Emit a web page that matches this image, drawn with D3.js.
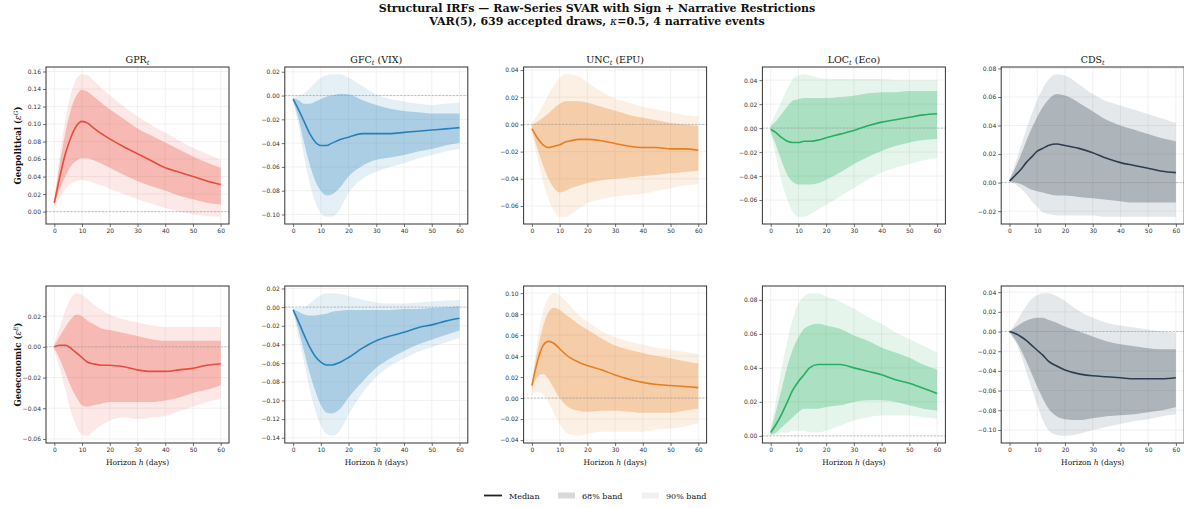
<!DOCTYPE html>
<html lang="en">
<head>
  <meta charset="UTF-8">
  <title>Structural IRFs</title>
  <script src="https://d3js.org/d3.v7.min.js"></script>
  <style>
    body { margin: 0; background: #fff; }
    .tick text { font-family: 'DejaVu Sans', sans-serif; font-size: 6px; }
    .serif { font-family: 'DejaVu Serif', serif; fill: #111; }
  </style>
</head>
<body>
<svg id="irf" width="1184" height="508"></svg>
<script>
const horizons = [0, 2, 4, 6, 8, 10, 12, 14, 17, 20, 25, 30, 35, 40, 45, 50, 55, 60];
const xTicks = [0, 10, 20, 30, 40, 50, 60];
const variables = ['GPR', 'GFC', 'UNC', 'LOC', 'CDS'];
const suffixes = ['', ' (VIX)', ' (EPU)', ' (Eco)', ''];
const colors = ['#e74c3c', '#2980b9', '#e67e22', '#27ae60', '#2c3e50'];
const shocks = ['Geopolitical', 'Geoeconomic'];
const shockSup = ['G', 'E'];
const legendLabels = ['Median', '68% band', '90% band'];

// ---- geopolitical shock ----
const G_GPR_med  = [0.010, 0.040, 0.066, 0.085, 0.098, 0.103, 0.101, 0.096, 0.089, 0.083, 0.074, 0.066, 0.058, 0.050, 0.045, 0.040, 0.035, 0.031];
const G_GPR_hi68 = [0.012, 0.055, 0.090, 0.117, 0.133, 0.139, 0.137, 0.132, 0.124, 0.117, 0.106, 0.095, 0.087, 0.079, 0.071, 0.063, 0.056, 0.050];
const G_GPR_lo68 = [0.008, 0.026, 0.040, 0.052, 0.058, 0.061, 0.061, 0.059, 0.055, 0.050, 0.042, 0.035, 0.029, 0.024, 0.018, 0.014, 0.010, 0.008];
const G_GPR_hi90 = [0.013, 0.065, 0.105, 0.135, 0.152, 0.157, 0.156, 0.150, 0.141, 0.133, 0.120, 0.109, 0.099, 0.090, 0.081, 0.073, 0.066, 0.059];
const G_GPR_lo90 = [0.006, 0.016, 0.026, 0.032, 0.035, 0.036, 0.035, 0.033, 0.030, 0.026, 0.020, 0.014, 0.009, 0.004, 0.000, -0.003, -0.005, -0.006];

const G_GFC_med  = [-0.003, -0.012, -0.022, -0.032, -0.039, -0.042, -0.042, -0.040, -0.037, -0.035, -0.032, -0.032, -0.032, -0.031, -0.030, -0.029, -0.028, -0.027];
const G_GFC_hi68 = [-0.002, -0.004, -0.007, -0.007, -0.005, -0.003, -0.001, 0.000, 0.0015, 0.001, -0.004, -0.008, -0.011, -0.013, -0.014, -0.015, -0.015, -0.015];
const G_GFC_lo68 = [-0.004, -0.020, -0.040, -0.058, -0.072, -0.080, -0.084, -0.083, -0.077, -0.068, -0.059, -0.054, -0.052, -0.050, -0.047, -0.045, -0.042, -0.040];
const G_GFC_hi90 = [-0.001, 0.000, 0.002, 0.006, 0.011, 0.015, 0.017, 0.018, 0.018, 0.015, 0.008, 0.001, -0.003, -0.005, -0.007, -0.008, -0.007, -0.006];
const G_GFC_lo90 = [-0.005, -0.026, -0.052, -0.074, -0.090, -0.099, -0.102, -0.102, -0.095, -0.082, -0.070, -0.064, -0.060, -0.057, -0.053, -0.050, -0.047, -0.045];

const G_UNC_med  = [-0.003, -0.010, -0.015, -0.017, -0.016, -0.015, -0.013, -0.012, -0.011, -0.011, -0.012, -0.014, -0.016, -0.017, -0.017, -0.018, -0.018, -0.019];
const G_UNC_hi68 = [0.000, 0.002, 0.005, 0.008, 0.012, 0.015, 0.017, 0.017, 0.017, 0.016, 0.013, 0.010, 0.007, 0.005, 0.003, 0.001, 0.000, -0.001];
const G_UNC_lo68 = [-0.004, -0.018, -0.030, -0.040, -0.047, -0.050, -0.049, -0.047, -0.045, -0.043, -0.041, -0.040, -0.039, -0.038, -0.037, -0.036, -0.035, -0.034];
const G_UNC_hi90 = [0.001, 0.007, 0.014, 0.022, 0.029, 0.034, 0.037, 0.037, 0.035, 0.031, 0.024, 0.019, 0.016, 0.013, 0.011, 0.009, 0.007, 0.006];
const G_UNC_lo90 = [-0.005, -0.025, -0.042, -0.055, -0.064, -0.068, -0.068, -0.066, -0.062, -0.058, -0.055, -0.053, -0.052, -0.051, -0.049, -0.047, -0.045, -0.044];

const G_LOC_med  = [-0.001, -0.004, -0.008, -0.011, -0.012, -0.012, -0.011, -0.011, -0.010, -0.008, -0.005, -0.002, 0.002, 0.005, 0.007, 0.009, 0.011, 0.012];
const G_LOC_hi68 = [0.002, 0.006, 0.012, 0.018, 0.023, 0.024, 0.025, 0.025, 0.025, 0.025, 0.026, 0.027, 0.029, 0.030, 0.030, 0.031, 0.031, 0.031];
const G_LOC_lo68 = [-0.003, -0.015, -0.028, -0.039, -0.045, -0.047, -0.047, -0.047, -0.046, -0.043, -0.037, -0.030, -0.024, -0.019, -0.015, -0.012, -0.010, -0.009];
const G_LOC_hi90 = [0.003, 0.013, 0.023, 0.033, 0.041, 0.044, 0.045, 0.044, 0.042, 0.041, 0.041, 0.041, 0.041, 0.041, 0.040, 0.040, 0.040, 0.040];
const G_LOC_lo90 = [-0.004, -0.025, -0.045, -0.060, -0.070, -0.074, -0.074, -0.072, -0.068, -0.064, -0.057, -0.050, -0.043, -0.037, -0.033, -0.030, -0.027, -0.025];

const G_CDS_med  = [0.001, 0.005, 0.009, 0.014, 0.018, 0.022, 0.024, 0.026, 0.027, 0.026, 0.024, 0.021, 0.017, 0.014, 0.012, 0.010, 0.008, 0.007];
const G_CDS_hi68 = [0.002, 0.010, 0.019, 0.029, 0.038, 0.046, 0.053, 0.058, 0.062, 0.061, 0.056, 0.050, 0.044, 0.040, 0.037, 0.034, 0.031, 0.029];
const G_CDS_lo68 = [0.001, 0.000, -0.001, -0.003, -0.005, -0.006, -0.007, -0.008, -0.009, -0.009, -0.010, -0.011, -0.012, -0.013, -0.014, -0.014, -0.014, -0.014];
const G_CDS_hi90 = [0.002, 0.013, 0.025, 0.037, 0.048, 0.058, 0.066, 0.072, 0.076, 0.075, 0.069, 0.062, 0.057, 0.054, 0.051, 0.048, 0.045, 0.042];
const G_CDS_lo90 = [0.001, -0.001, -0.004, -0.008, -0.013, -0.017, -0.021, -0.022, -0.023, -0.023, -0.023, -0.023, -0.024, -0.024, -0.024, -0.024, -0.024, -0.024];

// ---- geoeconomic shock ----
const E_GPR_med  = [0.000, 0.001, 0.001, -0.001, -0.004, -0.007, -0.010, -0.011, -0.012, -0.012, -0.013, -0.015, -0.016, -0.016, -0.015, -0.014, -0.012, -0.011];
const E_GPR_hi68 = [0.001, 0.007, 0.013, 0.018, 0.021, 0.020, 0.017, 0.015, 0.012, 0.011, 0.009, 0.007, 0.005, 0.004, 0.004, 0.004, 0.004, 0.004];
const E_GPR_lo68 = [-0.001, -0.008, -0.017, -0.026, -0.033, -0.038, -0.039, -0.038, -0.037, -0.036, -0.036, -0.036, -0.036, -0.035, -0.033, -0.030, -0.028, -0.025];
const E_GPR_hi90 = [0.002, 0.013, 0.024, 0.032, 0.035, 0.034, 0.031, 0.028, 0.024, 0.021, 0.018, 0.016, 0.014, 0.013, 0.013, 0.013, 0.013, 0.013];
const E_GPR_lo90 = [-0.002, -0.014, -0.028, -0.042, -0.052, -0.057, -0.058, -0.055, -0.051, -0.048, -0.046, -0.047, -0.046, -0.045, -0.042, -0.039, -0.036, -0.034];

const E_GFC_med  = [-0.003, -0.016, -0.030, -0.043, -0.053, -0.059, -0.062, -0.062, -0.059, -0.054, -0.044, -0.036, -0.031, -0.027, -0.022, -0.019, -0.015, -0.012];
const E_GFC_hi68 = [-0.002, -0.005, -0.008, -0.009, -0.009, -0.008, -0.007, -0.005, -0.004, -0.003, -0.003, -0.003, -0.003, -0.002, -0.002, -0.001, 0.000, 0.001];
const E_GFC_lo68 = [-0.004, -0.025, -0.048, -0.071, -0.090, -0.105, -0.113, -0.114, -0.109, -0.097, -0.080, -0.065, -0.055, -0.047, -0.040, -0.035, -0.030, -0.025];
const E_GFC_hi90 = [-0.001, -0.001, 0.000, 0.004, 0.009, 0.013, 0.015, 0.015, 0.014, 0.012, 0.008, 0.005, 0.004, 0.004, 0.005, 0.006, 0.007, 0.008];
const E_GFC_lo90 = [-0.005, -0.032, -0.060, -0.088, -0.111, -0.127, -0.136, -0.138, -0.132, -0.115, -0.092, -0.075, -0.063, -0.055, -0.048, -0.043, -0.038, -0.033];

const E_UNC_med  = [0.012, 0.035, 0.050, 0.054, 0.052, 0.047, 0.042, 0.038, 0.034, 0.031, 0.027, 0.022, 0.018, 0.015, 0.013, 0.012, 0.011, 0.010];
const E_UNC_hi68 = [0.014, 0.045, 0.068, 0.082, 0.086, 0.084, 0.080, 0.076, 0.070, 0.065, 0.057, 0.050, 0.046, 0.043, 0.040, 0.038, 0.035, 0.033];
const E_UNC_lo68 = [0.008, 0.020, 0.023, 0.018, 0.009, 0.000, -0.006, -0.010, -0.012, -0.013, -0.012, -0.012, -0.013, -0.014, -0.014, -0.014, -0.012, -0.010];
const E_UNC_hi90 = [0.016, 0.055, 0.082, 0.096, 0.100, 0.098, 0.093, 0.087, 0.079, 0.073, 0.064, 0.058, 0.054, 0.051, 0.048, 0.046, 0.044, 0.042];
const E_UNC_lo90 = [0.003, 0.006, 0.004, -0.004, -0.015, -0.025, -0.032, -0.035, -0.036, -0.034, -0.032, -0.032, -0.032, -0.032, -0.030, -0.029, -0.027, -0.024];

const E_LOC_med  = [0.002, 0.007, 0.013, 0.020, 0.027, 0.032, 0.036, 0.040, 0.042, 0.042, 0.042, 0.040, 0.038, 0.036, 0.033, 0.031, 0.028, 0.025];
const E_LOC_hi68 = [0.003, 0.015, 0.028, 0.041, 0.051, 0.058, 0.063, 0.065, 0.066, 0.065, 0.063, 0.059, 0.056, 0.052, 0.049, 0.046, 0.042, 0.039];
const E_LOC_lo68 = [0.001, 0.002, 0.005, 0.008, 0.011, 0.014, 0.016, 0.016, 0.016, 0.017, 0.018, 0.020, 0.021, 0.021, 0.020, 0.018, 0.016, 0.015];
const E_LOC_hi90 = [0.004, 0.022, 0.040, 0.056, 0.069, 0.078, 0.082, 0.084, 0.084, 0.082, 0.079, 0.075, 0.070, 0.066, 0.061, 0.057, 0.053, 0.049];
const E_LOC_lo90 = [0.000, 0.001, 0.002, 0.002, 0.003, 0.003, 0.003, 0.002, 0.002, 0.003, 0.006, 0.009, 0.011, 0.012, 0.012, 0.012, 0.011, 0.010];

const E_CDS_med  = [0.000, -0.002, -0.005, -0.009, -0.014, -0.019, -0.024, -0.030, -0.035, -0.039, -0.043, -0.045, -0.046, -0.047, -0.048, -0.048, -0.048, -0.047];
const E_CDS_hi68 = [0.000, 0.004, 0.008, 0.011, 0.013, 0.014, 0.014, 0.012, 0.009, 0.005, 0.000, -0.005, -0.010, -0.013, -0.015, -0.017, -0.018, -0.018];
const E_CDS_lo68 = [-0.001, -0.008, -0.018, -0.030, -0.043, -0.056, -0.068, -0.078, -0.086, -0.089, -0.090, -0.088, -0.086, -0.085, -0.084, -0.082, -0.080, -0.077];
const E_CDS_hi90 = [0.000, 0.008, 0.017, 0.026, 0.033, 0.037, 0.039, 0.039, 0.036, 0.031, 0.021, 0.014, 0.009, 0.006, 0.004, 0.002, 0.000, -0.001];
const E_CDS_lo90 = [-0.001, -0.010, -0.023, -0.040, -0.058, -0.075, -0.090, -0.100, -0.105, -0.106, -0.104, -0.100, -0.097, -0.094, -0.091, -0.089, -0.086, -0.084];

// table of panels: rows = shocks, cols = variables
const panelData = [
  [
    [G_GPR_med, G_GPR_lo68, G_GPR_hi68, G_GPR_lo90, G_GPR_hi90],
    [G_GFC_med, G_GFC_lo68, G_GFC_hi68, G_GFC_lo90, G_GFC_hi90],
    [G_UNC_med, G_UNC_lo68, G_UNC_hi68, G_UNC_lo90, G_UNC_hi90],
    [G_LOC_med, G_LOC_lo68, G_LOC_hi68, G_LOC_lo90, G_LOC_hi90],
    [G_CDS_med, G_CDS_lo68, G_CDS_hi68, G_CDS_lo90, G_CDS_hi90]
  ],
  [
    [E_GPR_med, E_GPR_lo68, E_GPR_hi68, E_GPR_lo90, E_GPR_hi90],
    [E_GFC_med, E_GFC_lo68, E_GFC_hi68, E_GFC_lo90, E_GFC_hi90],
    [E_UNC_med, E_UNC_lo68, E_UNC_hi68, E_UNC_lo90, E_UNC_hi90],
    [E_LOC_med, E_LOC_lo68, E_LOC_hi68, E_LOC_lo90, E_LOC_hi90],
    [E_CDS_med, E_CDS_lo68, E_CDS_hi68, E_CDS_lo90, E_CDS_hi90]
  ]
];

const svg = d3.select('svg#irf');

// layout
const panelLeft = 46, panelStep = 238.8, panelW = 183, panelH = 157;
const rowTops = [67, 286];

// suptitle
const title = svg.append('text').attr('class', 'serif')
  .attr('text-anchor', 'middle').attr('x', 597)
  .style('font-weight', 'bold').style('font-size', '11px');
title.append('tspan').attr('x', 597).attr('y', 12)
  .text('Structural IRFs \u2014 Raw-Series SVAR with Sign + Narrative Restrictions');
const t2 = title.append('tspan').attr('x', 597).attr('y', 25);
t2.append('tspan').text('VAR(5), 639 accepted draws, ');
t2.append('tspan').style('font-style', 'italic').style('font-weight', 'normal').text('\u03BA');
t2.append('tspan').text('=0.5, 4 narrative events');

shocks.forEach((shock, r) => {
  const top = rowTops[r];

  variables.forEach((v, c) => {
    const left = panelLeft + c * panelStep;
    const [med, lo68, hi68, lo90, hi90] = panelData[r][c];
    const color = colors[c];

    // y domain like matplotlib autoscale (5% margin), zero line included
    const all = [].concat(lo68, hi68, lo90, hi90, med, [0]);
    const lo = d3.min(all), hi = d3.max(all), pad = (hi - lo) * 0.05;

    const x = d3.scaleLinear().domain([-3, 63]).range([left, left + panelW]);
    const y = d3.scaleLinear().domain([lo - pad, hi + pad]).range([top + panelH, top]);

    const yTicks = d3.range(Math.ceil((lo - pad) / 0.02 - 1e-9), Math.floor((hi + pad) / 0.02 + 1e-9) + 1)
      .map(k => k * 0.02);

    const g = svg.append('g');

    // gridlines
    g.append('g').selectAll('line.gx').data(xTicks).join('line')
      .attr('x1', d => x(d)).attr('x2', d => x(d))
      .attr('y1', top).attr('y2', top + panelH)
      .attr('stroke', '#ebebeb').attr('stroke-width', 0.7);
    g.append('g').selectAll('line.gy').data(yTicks).join('line')
      .attr('y1', d => y(d)).attr('y2', d => y(d))
      .attr('x1', left).attr('x2', left + panelW)
      .attr('stroke', '#ebebeb').attr('stroke-width', 0.7);

    const rows = horizons.map((h, i) => ({ h, med: med[i], lo68: lo68[i], hi68: hi68[i], lo90: lo90[i], hi90: hi90[i] }));

    const band = (a, b) => d3.area().curve(d3.curveMonotoneX)
      .x(d => x(d.h)).y0(d => y(d[a])).y1(d => y(d[b]));

    g.append('path').datum(rows).attr('d', band('lo90', 'hi90'))
      .attr('fill', color).attr('fill-opacity', 0.12);
    g.append('path').datum(rows).attr('d', band('lo68', 'hi68'))
      .attr('fill', color).attr('fill-opacity', 0.3);

    // zero line
    g.append('line')
      .attr('x1', left).attr('x2', left + panelW)
      .attr('y1', y(0)).attr('y2', y(0))
      .attr('stroke', '#999').attr('stroke-width', 0.6).attr('stroke-dasharray', '2,1.5');

    // median
    g.append('path').datum(rows)
      .attr('d', d3.line().curve(d3.curveMonotoneX).x(d => x(d.h)).y(d => y(d.med)))
      .attr('fill', 'none').attr('stroke', color).attr('stroke-width', 1.6);

    // axes
    const leftAxis = d3.axisLeft(y).tickValues(yTicks).tickFormat(d3.format('.2f')).tickSize(3).tickPadding(2);
    const bottomAxis = d3.axisBottom(x).tickValues(xTicks).tickFormat(d3.format('d')).tickSize(3).tickPadding(2);

    const ya = g.append('g').attr('transform', 'translate(' + left + ',0)').call(leftAxis);
    const xa = g.append('g').attr('transform', 'translate(0,' + (top + panelH) + ')').call(bottomAxis);
    [ya, xa].forEach(a => {
      a.select('.domain').remove();
      a.selectAll('.tick line').attr('stroke', '#333').attr('stroke-width', 0.7);
      a.selectAll('.tick text').attr('fill', '#333');
    });

    // frame
    g.append('rect').attr('x', left).attr('y', top).attr('width', panelW).attr('height', panelH)
      .attr('fill', 'none').attr('stroke', '#333').attr('stroke-width', 1);

    // column titles (top row only)
    if (r === 0) {
      const t = g.append('text').attr('class', 'serif').attr('text-anchor', 'middle')
        .attr('x', left + panelW / 2).attr('y', top - 4).style('font-size', '9.5px');
      t.append('tspan').text(v);
      t.append('tspan').attr('dy', 2).style('font-size', '6.5px').style('font-style', 'italic').text('t');
      t.append('tspan').attr('dy', -2).text(suffixes[c]);
    }

    // x labels (bottom row only)
    if (r === 1) {
      const t = g.append('text').attr('class', 'serif').attr('text-anchor', 'middle')
        .attr('x', left + panelW / 2).attr('y', top + panelH + 22).style('font-size', '7.5px');
      t.append('tspan').text('Horizon ');
      t.append('tspan').style('font-style', 'italic').text('h');
      t.append('tspan').text(' (days)');
    }

    // row labels
    if (c === 0) {
      const cy = top + panelH / 2;
      const t = g.append('text').attr('class', 'serif').attr('text-anchor', 'middle')
        .attr('transform', 'translate(21,' + cy + ') rotate(-90)')
        .style('font-size', '8.5px').style('font-weight', 'bold');
      t.append('tspan').text(shock + ' (');
      t.append('tspan').style('font-style', 'italic').style('font-weight', 'normal').text('\u03B5');
      t.append('tspan').attr('dy', -3).style('font-size', '6px').style('font-style', 'italic').style('font-weight', 'normal').text(shockSup[r]);
      t.append('tspan').attr('dy', 3).text(')');
    }
  });
});

// legend
const legY = 495.5;
const leg = svg.append('g');
leg.append('line').attr('x1', 484).attr('x2', 502).attr('y1', legY).attr('y2', legY)
  .attr('stroke', '#222').attr('stroke-width', 1.8);
leg.append('rect').attr('x', 558).attr('y', legY - 3).attr('width', 17).attr('height', 6)
  .attr('fill', 'grey').attr('fill-opacity', 0.3);
leg.append('rect').attr('x', 642).attr('y', legY - 3).attr('width', 17).attr('height', 6)
  .attr('fill', 'grey').attr('fill-opacity', 0.12);
[509, 582, 666].forEach((lx, i) => {
  leg.append('text').attr('class', 'serif').attr('x', lx).attr('y', legY + 3)
    .style('font-size', '8px').text(legendLabels[i]);
});
</script>
</body>
</html>
